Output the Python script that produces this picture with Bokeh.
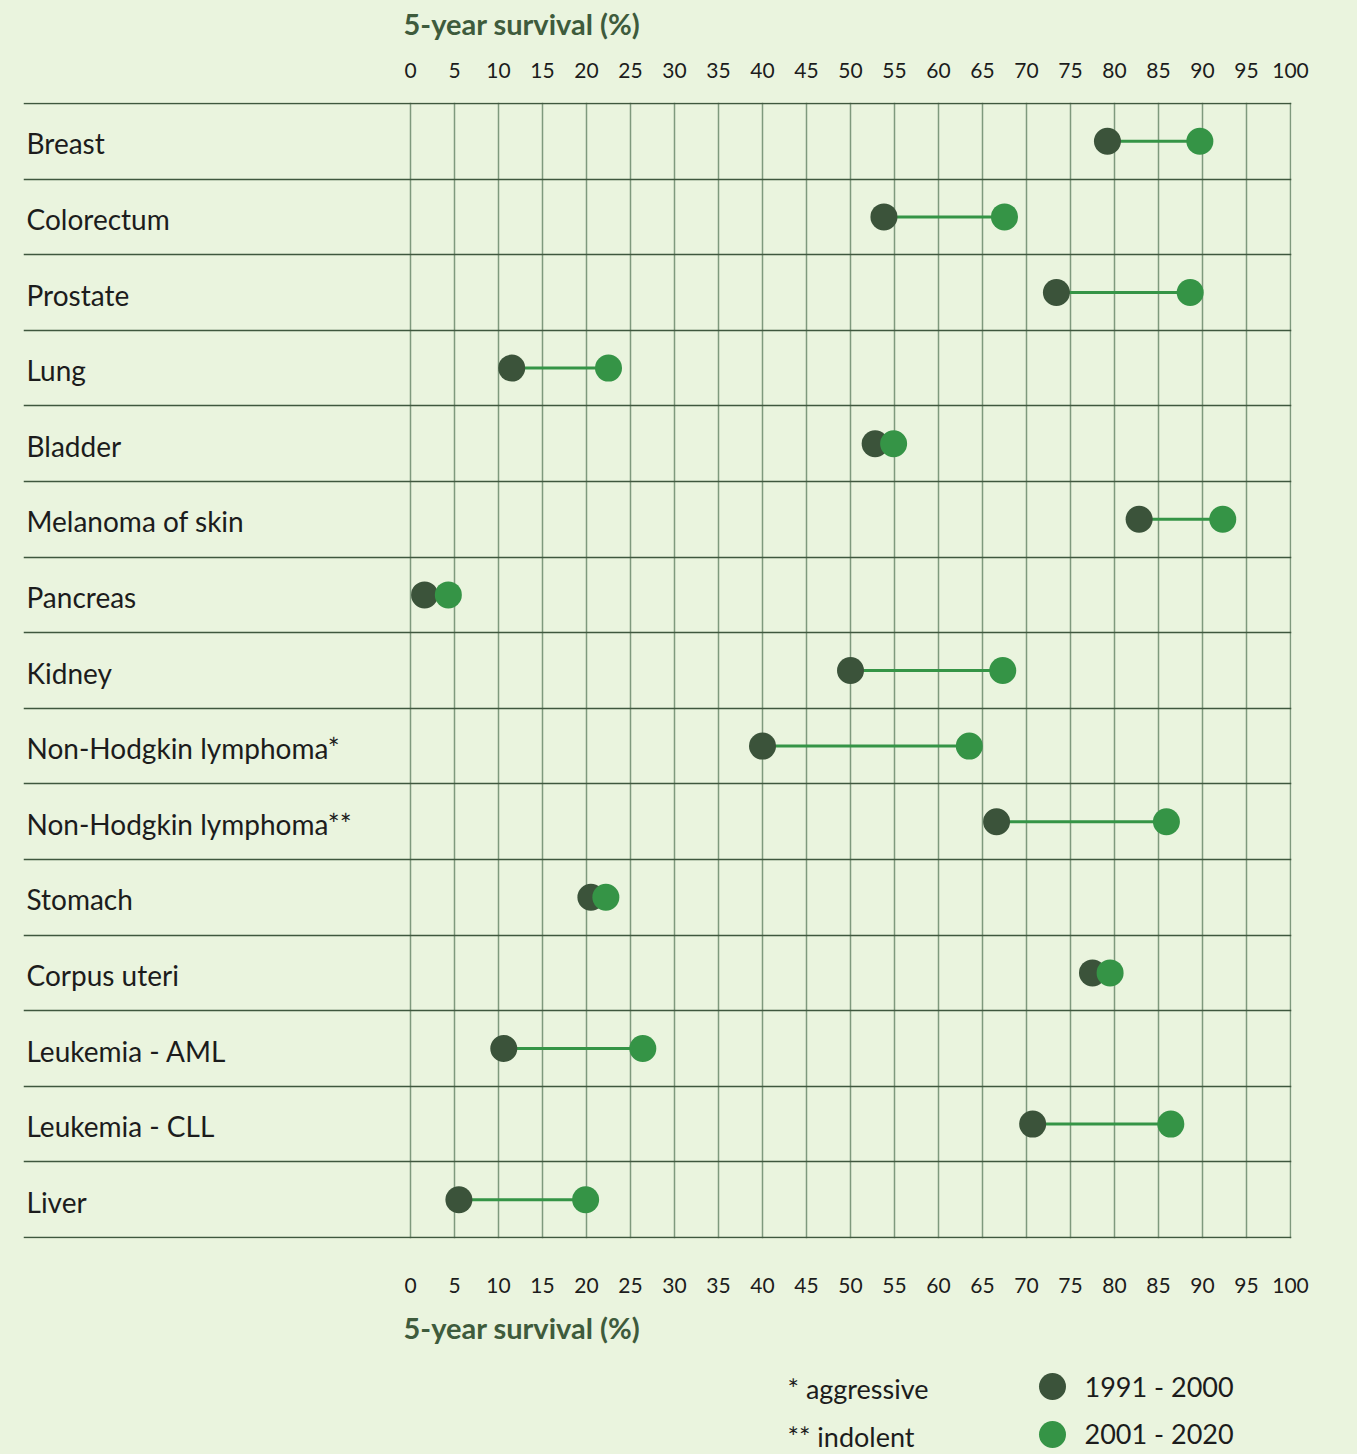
from bokeh.plotting import figure
from bokeh.models import Range1d, LinearAxis, FixedTicker, ColumnDataSource
from bokeh.layouts import column
from bokeh.core.properties import value
from bokeh.embed import file_html
from bokeh.resources import INLINE

# ---------------- data ----------------
categories = ["Breast", "Colorectum", "Prostate", "Lung", "Bladder", "Melanoma of skin",
              "Pancreas", "Kidney", "Non-Hodgkin lymphoma*", "Non-Hodgkin lymphoma**",
              "Stomach", "Corpus uteri", "Leukemia - AML", "Leukemia - CLL", "Liver"]
survival_1991_2000 = [79.2, 53.8, 73.4, 11.5, 52.8, 82.8, 1.6, 50.0, 40.0, 66.6,
                      20.5, 77.5, 10.6, 70.7, 5.5]
survival_2001_2020 = [89.7, 67.5, 88.6, 22.5, 54.9, 92.3, 4.3, 67.3, 63.5, 85.9,
                      22.2, 79.5, 26.4, 86.4, 19.9]
tick_values = list(range(0, 101, 5))
series_labels = ["1991 - 2000", "2001 - 2020"]
notes = ["* aggressive", "** indolent"]
axis_title = "5-year survival (%)"

# ---------------- style ----------------
BG = "#EAF4DE"
DARK = "#3B533A"
GREEN = "#359446"
VGRID = "#7F997D"
HLINE = "#3F573E"
TXT = "#1C1C1C"
TITLE_C = "#3E5B3C"
FONT = "Lato"

W = 1357
TOTAL_H = 1454
H_TOP = 50
FRAME_L, FRAME_W = 23, 1268
FRAME_T, FRAME_H = 102, 1136
BOTTOM_BORDER = 70
PX_PER_UNIT = 8.8
ZERO_PX = 410  # canvas x of value 0
H_MAIN = FRAME_T - H_TOP + FRAME_H + BOTTOM_BORDER
H_BOT = TOTAL_H - H_TOP - H_MAIN
R_BORDER = W - FRAME_L - FRAME_W


def px(cx):
    """canvas pixel column -> data x (shared x mapping)"""
    return (cx - ZERO_PX) / PX_PER_UNIT


x_range = Range1d(px(FRAME_L), px(FRAME_L + FRAME_W))
n = len(categories)
row_px = (FRAME_H - 2) / n
pad = 1 / row_px


def strip(height):
    f = figure(width=W, height=height, x_range=x_range, y_range=Range1d(height, 0),
               x_axis_location=None, y_axis_location=None, title=None,
               output_backend="svg", toolbar_location=None,
               min_border_left=FRAME_L, min_border_right=R_BORDER,
               min_border_top=0, min_border_bottom=0)
    f.background_fill_color = BG
    f.border_fill_color = BG
    f.outline_line_color = None
    f.xgrid.visible = False
    f.ygrid.visible = False
    return f


title_x = px(ZERO_PX - 7)

# ---------------- top strip (axis title) ----------------
top = strip(H_TOP)
top.text(x=[title_x], y=[23], text=[axis_title], text_font=value(FONT),
         text_font_size="29px", text_font_style="bold", text_color=TITLE_C,
         text_baseline="middle", text_align="left")

# ---------------- main chart ----------------
p = figure(width=W, height=H_MAIN, x_range=x_range,
           y_range=Range1d(n + pad, -pad), title=None,
           x_axis_location=None, y_axis_location=None,
           output_backend="svg", toolbar_location=None,
           min_border_left=FRAME_L, min_border_right=R_BORDER,
           min_border_top=FRAME_T - H_TOP, min_border_bottom=BOTTOM_BORDER)
p.background_fill_color = BG
p.border_fill_color = BG
p.outline_line_color = None

ticker = FixedTicker(ticks=tick_values)
for loc, standoff in (("above", 25), ("below", 39)):
    ax = LinearAxis(ticker=ticker)
    ax.axis_line_color = None
    ax.major_tick_line_color = None
    ax.minor_tick_line_color = None
    ax.major_tick_out = 0
    ax.major_tick_in = 0
    ax.major_label_standoff = standoff
    ax.major_label_text_font = FONT
    ax.major_label_text_font_size = "21px"
    ax.major_label_text_color = TXT
    p.add_layout(ax, loc)

p.xgrid.ticker = ticker
p.xgrid.grid_line_color = VGRID
p.xgrid.grid_line_width = 1.5
p.ygrid.grid_line_color = None

# horizontal row separators
p.hspan(y=list(range(n + 1)), line_color=HLINE, line_width=1.5)

ys = [i + 0.5 for i in range(n)]
src = ColumnDataSource(dict(cat=categories, y=ys, a=survival_1991_2000, b=survival_2001_2020))

p.segment(x0="a", y0="y", x1="b", y1="y", source=src, line_color=GREEN, line_width=3)
p.scatter(x="a", y="y", source=src, size=27, fill_color=DARK, line_color=None)
p.scatter(x="b", y="y", source=src, size=27, fill_color=GREEN, line_color=None)

p.text(x=px(FRAME_L + 3), y="y", text="cat", source=src, text_font=value(FONT),
       text_font_size="28px", text_color=TXT, text_baseline="middle", text_align="left",
       y_offset=2)

# ---------------- bottom strip (axis title + legend) ----------------
bot = strip(H_BOT)
bot.text(x=[title_x], y=[19], text=[axis_title], text_font=value(FONT),
         text_font_size="29px", text_font_style="bold", text_color=TITLE_C,
         text_baseline="middle", text_align="left")

dot_x = px(1052)
bot.scatter(x=[dot_x, dot_x], y=[78, 126], size=27, fill_color=[DARK, GREEN], line_color=None)
bot.text(x=[px(1084)] * 2, y=[78, 125], text=series_labels, text_font=value(FONT),
         text_font_size="27px", text_color=TXT, text_baseline="alphabetic")
bot.text(x=[px(787)] * 2, y=[80, 128], text=notes, text_font=value(FONT),
         text_font_size="27px", text_color=TXT, text_baseline="alphabetic")

layout = column(top, p, bot, spacing=0, styles={"background-color": BG})
open("out.html", "w").write(file_html(layout, INLINE))
